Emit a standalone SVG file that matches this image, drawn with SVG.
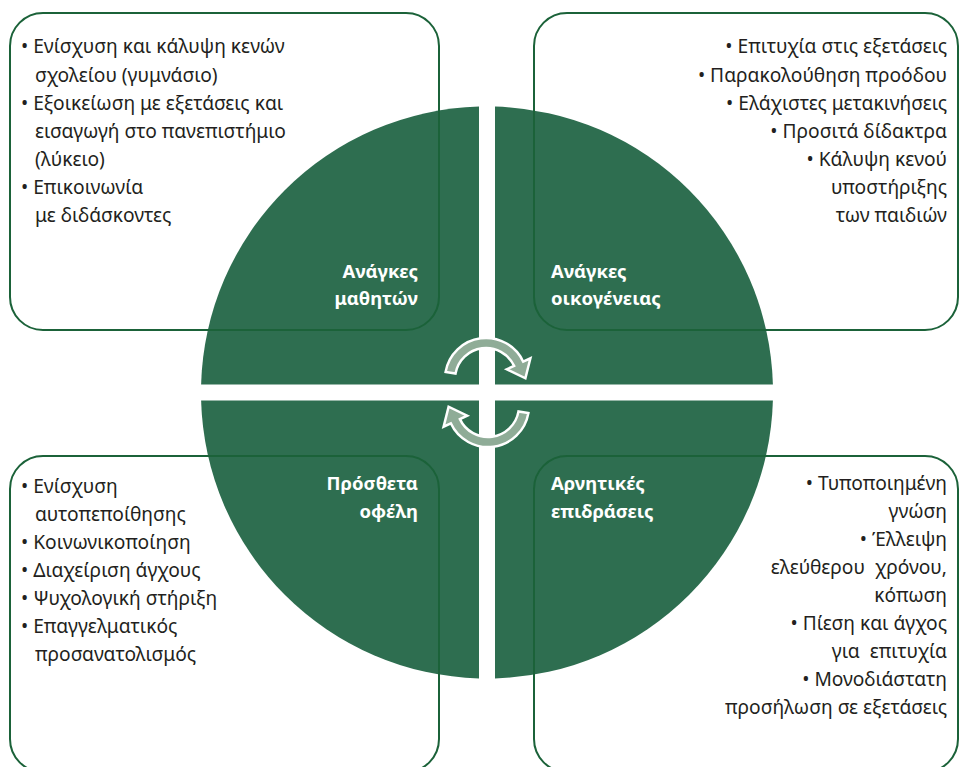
<svg xmlns="http://www.w3.org/2000/svg" width="960" height="767" viewBox="0 0 960 767">
<style>
.quad{fill:#2e6e50}
.box{fill:none;stroke:#1b6239;stroke-width:2}
.t{font-family:"Noto Sans","DejaVu Sans",sans-serif;font-size:19.2px;fill:#231f20}
.r{text-anchor:end}
.lbl{font-family:"Noto Sans","DejaVu Sans",sans-serif;font-size:18.5px;font-weight:bold;fill:#ffffff}
.arrow{fill:#8fac97;stroke:#ffffff;stroke-width:2.5;stroke-linejoin:miter}
</style>
<rect width="960" height="767" fill="#ffffff"/>
<g id="quad-students">
<path class="quad" d="M479,384.5 L479,106.6 A286,286 0 0 0 201.1,384.5 Z"/>
<text class="lbl r" x="418" y="278">Ανάγκες</text>
<text class="lbl r" x="418" y="305">μαθητών</text>
</g>
<g id="quad-family">
<path class="quad" d="M495,384.5 L495,106.6 A286,286 0 0 1 772.9,384.5 Z"/>
<text class="lbl" x="551" y="278">Ανάγκες</text>
<text class="lbl" x="551" y="305">οικογένειας</text>
</g>
<g id="quad-benefits">
<path class="quad" d="M479,400.5 L201.1,400.5 A286,286 0 0 0 479,678.4 Z"/>
<text class="lbl r" x="418" y="490">Πρόσθετα</text>
<text class="lbl r" x="418" y="518">οφέλη</text>
</g>
<g id="quad-negative">
<path class="quad" d="M495,400.5 L495,678.4 A286,286 0 0 0 772.9,400.5 Z"/>
<text class="lbl" x="551" y="490">Αρνητικές</text>
<text class="lbl" x="551" y="518">επιδράσεις</text>
</g>
<g id="connectors">
<path id="arrow-top" class="arrow" d="M445.6,371.9 A41,41 0 0 1 523.2,361.7 L530.4,358.3 L525.4,378.3 L506.8,369.3 L514.1,365.9 A31,31 0 0 0 455.5,373.6 Z"/>
<path id="arrow-bottom" class="arrow" transform="rotate(180 487 392.5)" d="M445.6,371.9 A41,41 0 0 1 523.2,361.7 L530.4,358.3 L525.4,378.3 L506.8,369.3 L514.1,365.9 A31,31 0 0 0 455.5,373.6 Z"/>
</g>
<g id="box-students">
<rect class="box" x="10" y="13" width="429" height="317" rx="33"/>
<text class="t" x="21" y="53">• Ενίσχυση και κάλυψη κενών</text>
<text class="t" x="35" y="82">σχολείου (γυμνάσιο)</text>
<text class="t" x="21" y="110">• Εξοικείωση με εξετάσεις και</text>
<text class="t" x="35" y="138">εισαγωγή στο πανεπιστήμιο</text>
<text class="t" x="35" y="166">(λύκειο)</text>
<text class="t" x="21" y="194">• Επικοινωνία</text>
<text class="t" x="35" y="222">με διδάσκοντες</text>
</g>
<g id="box-family">
<rect class="box" x="534" y="13" width="424" height="317" rx="33"/>
<text class="t r" x="947" y="53">• Επιτυχία στις εξετάσεις</text>
<text class="t r" x="947" y="82">• Παρακολούθηση προόδου</text>
<text class="t r" x="947" y="110">• Ελάχιστες μετακινήσεις</text>
<text class="t r" x="947" y="138">• Προσιτά δίδακτρα</text>
<text class="t r" x="947" y="166">• Κάλυψη κενού</text>
<text class="t r" x="947" y="194">υποστήριξης</text>
<text class="t r" x="947" y="222">των παιδιών</text>
</g>
<g id="box-benefits">
<rect class="box" x="10" y="456" width="429" height="316" rx="33"/>
<text class="t" x="21" y="493">• Ενίσχυση</text>
<text class="t" x="35" y="521">αυτοπεποίθησης</text>
<text class="t" x="21" y="549">• Κοινωνικοποίηση</text>
<text class="t" x="21" y="577">• Διαχείριση άγχους</text>
<text class="t" x="21" y="605">• Ψυχολογική στήριξη</text>
<text class="t" x="21" y="633">• Επαγγελματικός</text>
<text class="t" x="35" y="661">προσανατολισμός</text>
</g>
<g id="box-negative">
<rect class="box" x="534" y="456" width="424" height="316" rx="33"/>
<text class="t r" x="947" y="490">• Τυποποιημένη</text>
<text class="t r" x="947" y="518">γνώση</text>
<text class="t r" x="947" y="546">• Έλλειψη</text>
<text class="t r" x="947" y="574">ελεύθερου&#160; χρόνου,</text>
<text class="t r" x="947" y="602">κόπωση</text>
<text class="t r" x="947" y="630">• Πίεση και άγχος</text>
<text class="t r" x="947" y="658">για&#160; επιτυχία</text>
<text class="t r" x="947" y="686">• Μονοδιάστατη</text>
<text class="t r" x="947" y="714">προσήλωση σε εξετάσεις</text>
</g>
</svg>
